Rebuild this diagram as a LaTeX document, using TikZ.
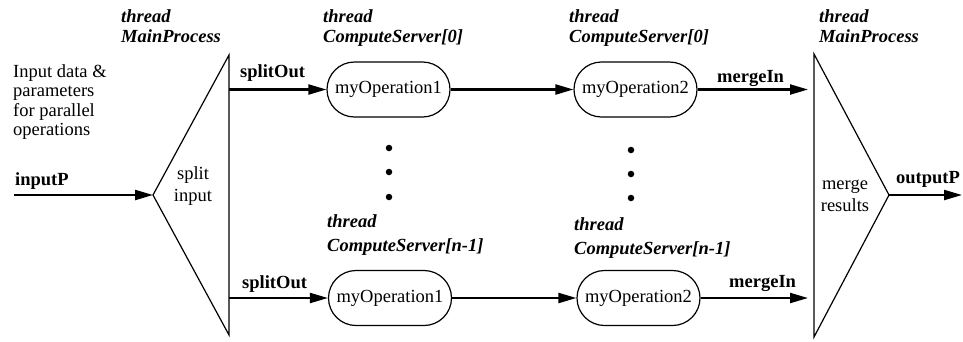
\documentclass[tikz,border=0pt]{standalone}
\usepackage{fontspec}
\setmainfont{Liberation Serif}
\usetikzlibrary{shapes.misc,arrows.meta}
\begin{document}
\begin{tikzpicture}[x=1pt,y=-1pt,
  txt/.style={inner sep=0pt, anchor=north west, align=left,
    font=\fontsize{18.5}{19.5}\selectfont},
  port/.style={inner sep=0pt, anchor=base west,
    font=\fontsize{18.5}{20}\selectfont\bfseries},
  thr/.style={inner sep=0pt, anchor=north west, align=left,
    font=\fontsize{18.5}{20.5}\selectfont\bfseries\itshape},
  thrlow/.style={thr, font=\fontsize{18.5}{24}\selectfont\bfseries\itshape},
  inner/.style={inner sep=0pt, align=center,
    font=\fontsize{18.5}{22}\selectfont},
  op/.style={draw, rounded rectangle, line width=1.2pt,
    minimum width=123pt, minimum height=55pt, inner sep=0pt,
    font=\fontsize{18.5}{20}\selectfont},
  flow/.style={line width=2.2pt, -{Triangle[length=18pt,width=10pt]}},
  body/.style={line width=1.2pt, line join=miter},
  dot/.style={circle, fill, inner sep=0pt, minimum size=6.5pt}
]
\useasboundingbox (0,0) rectangle (963,341);

% split triangle (MainProcess, input side)
\coordinate (splitTip) at (153,195);
\coordinate (splitTop) at (229,55);
\coordinate (splitBot) at (229,335);
\draw[body] (splitTop) -- (splitTip) -- (splitBot) -- cycle;
\node[inner] (splitLbl) at (193,186) {split\\input};

% merge triangle (MainProcess, output side)
\coordinate (mergeTip) at (889,195);
\coordinate (mergeTop) at (814,54);
\coordinate (mergeBot) at (814,337);
\draw[body] (mergeTop) -- (mergeTip) -- (mergeBot) -- cycle;
\node[inner] (mergeLbl) at (845,196) {merge\\results};

% operations of the compute servers
\node[op] (opA1) at (388.5,89.5) {myOperation1};
\node[op] (opA2) at (635.5,89.5) {myOperation2};
\node[op] (opB1) at (390,298) {myOperation1};
\node[op] (opB2) at (638.5,298) {myOperation2};

% thread labels
\node[thr] (thrMainL) at (121,9) {thread\\MainProcess};
\node[thr] (thrA1) at (323,9) {thread\\ComputeServer[0]};
\node[thr] (thrA2) at (569,9) {thread\\ComputeServer[0]};
\node[thrlow] (thrB1) at (327,214) {thread\\ComputeServer[n-1]};
\node[thrlow] (thrB2) at (574,217) {thread\\ComputeServer[n-1]};
\node[thr] (thrMainR) at (819,9) {thread\\MainProcess};

% input description
\node[txt] (inDesc) at (13,64) {Input data \&\\parameters\\for parallel\\operations};

% ellipsis dots between the two rows
\node[dot] (dA1) at (389,148) {};
\node[dot] (dA2) at (389,172) {};
\node[dot] (dA3) at (389,197) {};
\node[dot] (dB1) at (631,150) {};
\node[dot] (dB2) at (631,174) {};
\node[dot] (dB3) at (631,198) {};

% end points of the connectors
\coordinate (inStart) at (14,195);
\coordinate (outEnd) at (962,195);
\coordinate (soA) at (229,89.5);
\coordinate (soB) at (229,298);
\coordinate (miA) at (808,89.5);
\coordinate (miB) at (808,298);

% connectors
\draw[flow] (inStart) -- (splitTip);
\draw[flow] (soA) -- (opA1.west);
\draw[flow] (soB) -- (opB1.west);
\draw[flow] (opA1.east) -- (opA2.west);
\draw[flow] (opB1.east) -- (opB2.west);
\draw[flow] (opA2.east) -- (miA);
\draw[flow] (opB2.east) -- (miB);
\draw[flow] (mergeTip) -- (outEnd);

% port labels
\node[port] (pIn) at (15,185) {inputP};
\node[port] (pSoA) at (240,77) {splitOut};
\node[port] (pSoB) at (242,288) {splitOut};
\node[port] (pMiA) at (717,82) {mergeIn};
\node[port] (pMiB) at (729,287) {mergeIn};
\node[port] (pOut) at (896,183) {outputP};
\end{tikzpicture}
\end{document}
